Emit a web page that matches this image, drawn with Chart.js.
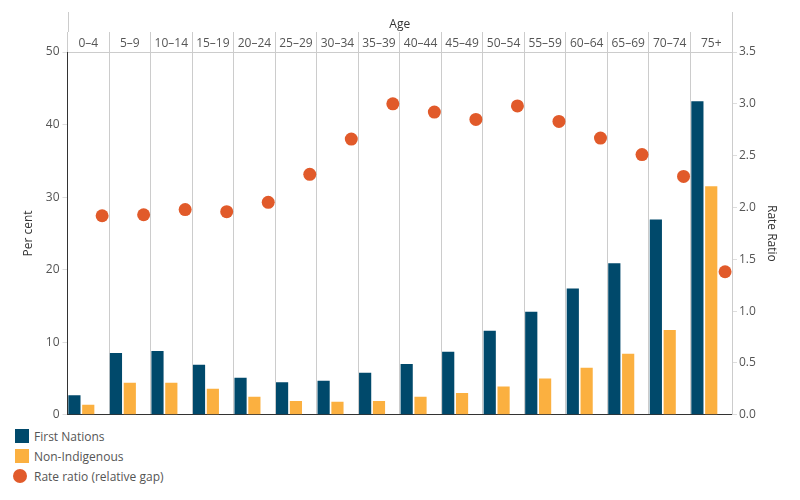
<!DOCTYPE html>
<html>
<head>
<meta charset="utf-8">
<script src="https://cdn.jsdelivr.net/npm/chart.js@4/dist/chart.umd.min.js"></script>
<style>
  body { margin: 0; background: #fff; font-family: "Open Sans", sans-serif; }
  #wrap { position: relative; width: 800px; height: 425px; }
  #legend { position: absolute; left: 0; top: 426px; font-size: 12px; color: #555; }
  .item { display: flex; align-items: center; height: 20px; }
  .sw { width: 34px; height: 14px; position: relative; }
  .sw span { position: absolute; top: 0; width: 14px; height: 14px; }
</style>
</head>
<body>
<div id="wrap"><canvas id="ageChart"></canvas></div>
<div id="legend"></div>
<script>
// age groups along the top
const ageGroups = ['0–4', '5–9', '10–14', '15–19', '20–24', '25–29', '30–34', '35–39',
                   '40–44', '45–49', '50–54', '55–59', '60–64', '65–69', '70–74', '75+'];
// per cent
const firstNations  = [2.7, 8.5, 8.8, 6.9, 5.1, 4.5, 4.7, 5.8, 7.0, 8.7, 11.6, 14.2, 17.4, 20.9, 26.9, 43.2];
const nonIndigenous = [1.4, 4.4, 4.4, 3.6, 2.5, 1.9, 1.8, 1.9, 2.5, 3.0, 3.9, 5.0, 6.5, 8.4, 11.7, 31.5];
// rate ratio (right axis)
const rateRatio = [1.92, 1.93, 1.98, 1.96, 2.05, 2.32, 2.66, 3.00, 2.92, 2.85, 2.98, 2.83, 2.67, 2.51, 2.30, 1.38];

const blue = '#00496B';
const orange = '#FBB040';
const red = '#E15A2A';

// dots sit in the third slot of each age panel (category index + shift)
const dotShift = 1 / 3;
const ratioPoints = rateRatio.map((v, i) => ({ x: i + dotShift, y: v }));

Chart.defaults.font.family = "'Open Sans', sans-serif";
Chart.defaults.font.size = 12;
Chart.defaults.color = '#555';

// grey edge lines running up through the header
const edgeLines = {
  id: 'edgeLines',
  afterDraw(chart) {
    const { ctx, chartArea, scales } = chart;
    ctx.save();
    ctx.strokeStyle = '#ccc';
    ctx.lineWidth = 1;
    [chartArea.left, chartArea.right].forEach(x => {
      const px = Math.round(x) + 0.5;
      ctx.beginPath();
      ctx.moveTo(px, scales.x.top + 12);
      ctx.lineTo(px, scales.x.bottom - 20);
      ctx.stroke();
    });
    ctx.restore();
  }
};

const ctx = document.getElementById('ageChart').getContext('2d');
const ageChart = new Chart(ctx, {
  type: 'bar',
  data: {
    labels: ageGroups,
    datasets: [
      { label: 'First Nations', data: firstNations, backgroundColor: blue,
        barPercentage: 0.88, categoryPercentage: 1.0, order: 2 },
      { label: 'Non-Indigenous', data: nonIndigenous, backgroundColor: orange,
        barPercentage: 0.88, categoryPercentage: 1.0, order: 2 },
      // empty third slot, keeps room for the dots
      { label: '', data: [], backgroundColor: 'transparent',
        barPercentage: 0.88, categoryPercentage: 1.0, order: 2 },
      { type: 'scatter', label: 'Rate ratio (relative gap)', data: ratioPoints,
        parsing: false, yAxisID: 'y1', backgroundColor: red, borderWidth: 0,
        pointRadius: 6.5, pointStyle: 'circle', order: 1 }
    ]
  },
  options: {
    responsive: true,
    maintainAspectRatio: false,
    animation: false,
    events: [],
    layout: { padding: { top: 0, left: 10, right: 10, bottom: 8 } },
    plugins: { legend: { display: false }, tooltip: { enabled: false } },
    scales: {
      x: {
        type: 'category',
        position: 'top',
        offset: true,
        grid: { offset: true, color: '#ccc', tickLength: 20, drawOnChartArea: true },
        border: { color: '#ccc' },
        ticks: { padding: -19, autoSkip: false, maxRotation: 0, color: '#555' },
        title: { display: true, text: 'Age', color: '#333', padding: { top: 17, bottom: 4 } },
        afterFit: s => { s.height = 52; }
      },
      y: {
        position: 'left',
        min: 0, max: 50,
        ticks: { stepSize: 10, padding: 3, color: '#555' },
        grid: {
          drawOnChartArea: true, tickLength: 5, tickColor: '#ddd',
          color: c => (c.tick.value === 0 ? '#333' : 'transparent')
        },
        border: { color: '#333' },
        title: { display: true, text: 'Per cent', color: '#333', padding: { top: 11, bottom: 0 } },
        afterFit: s => { s.width = 57.5; }
      },
      y1: {
        position: 'right',
        min: 0, max: 3.5,
        ticks: { stepSize: 0.5, padding: 2, color: '#555', callback: v => v.toFixed(1) },
        grid: { drawOnChartArea: false, tickLength: 5, tickColor: '#ddd' },
        border: { color: '#ccc' },
        title: { display: true, text: 'Rate Ratio', color: '#333', padding: { top: 11, bottom: 0 } },
        afterFit: s => { s.width = 58; }
      }
    }
  },
  plugins: [edgeLines]
});

// legend, one entry per line
const legend = document.getElementById('legend');
ageChart.data.datasets.filter(d => d.label).forEach(d => {
  const row = document.createElement('div');
  row.className = 'item';
  const sw = document.createElement('div');
  sw.className = 'sw';
  const mark = document.createElement('span');
  mark.style.background = d.backgroundColor;
  if (d.type === 'scatter') { mark.style.left = '13px'; mark.style.borderRadius = '50%'; }
  else { mark.style.left = '15px'; }
  sw.appendChild(mark);
  const txt = document.createElement('span');
  txt.textContent = d.label;
  row.appendChild(sw);
  row.appendChild(txt);
  legend.appendChild(row);
});
</script>
</body>
</html>
